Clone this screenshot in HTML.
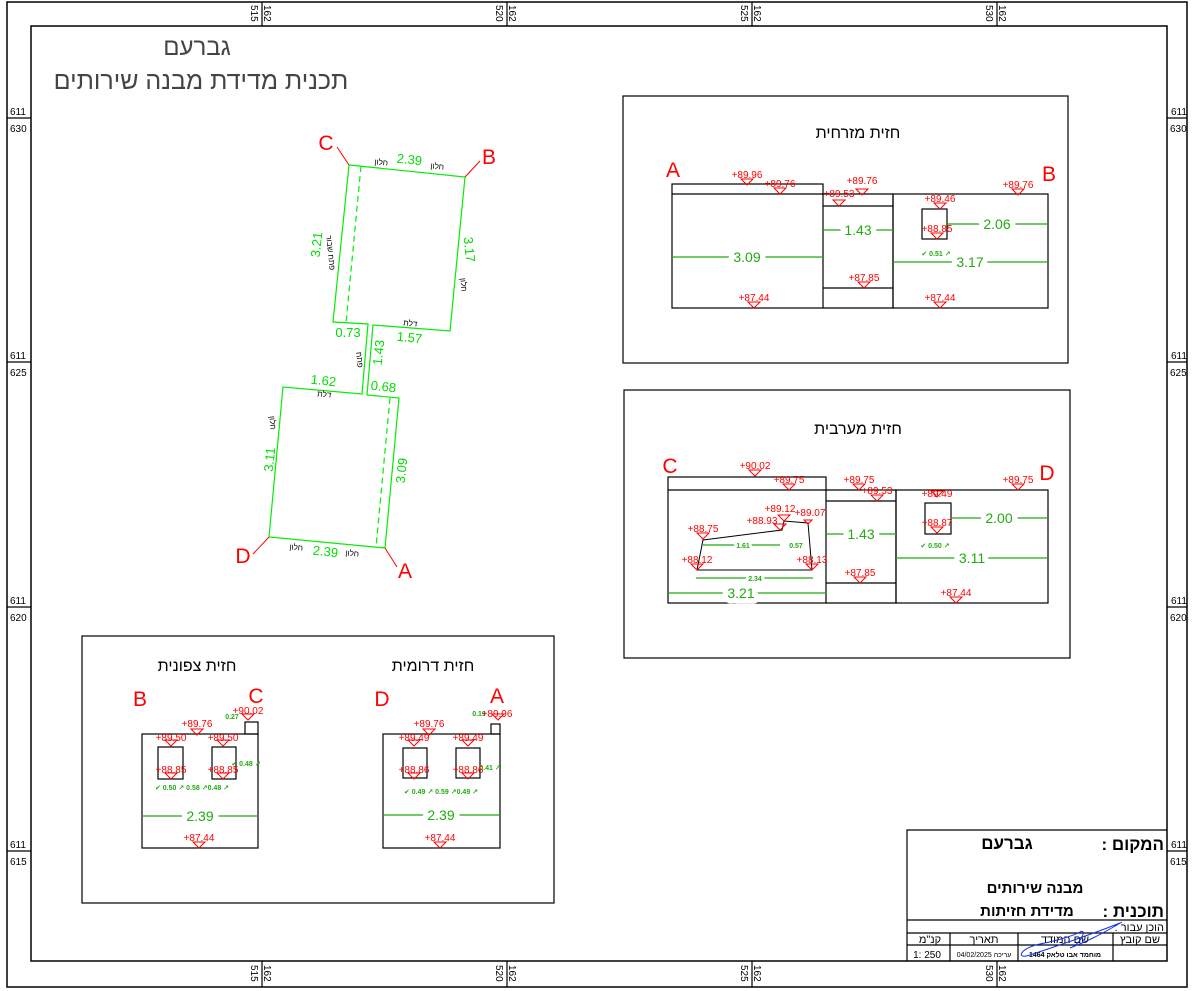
<!DOCTYPE html>
<html><head><meta charset="utf-8"><style>
html,body{margin:0;padding:0;background:#fff}
svg{display:block}
text{font-family:"Liberation Sans","DejaVu Sans",sans-serif}
.m path{fill:none;stroke:#f00;stroke-width:1}
.m text{fill:#f00;font-size:10px;text-anchor:middle}
.d{stroke:#22aa11;stroke-width:1.2;fill:none}
.dt{fill:#22aa11;font-size:14px;text-anchor:middle;stroke:#fff;stroke-width:11;paint-order:stroke;stroke-linejoin:round}
.ds{fill:#22aa11;font-size:7px;text-anchor:middle;font-weight:bold}
.b{stroke:#000;stroke-width:1.2;fill:none}
.g{stroke:#00ee00;stroke-width:1.2;fill:none}
.gt{fill:#00dd00;font-size:13px;text-anchor:middle}
.bt{fill:#000;font-size:8px;text-anchor:middle;font-family:"Liberation Sans","Noto Sans CJK SC",sans-serif}
.L{fill:#f00;font-size:21px;text-anchor:middle;font-weight:normal}
.h{font-family:"Liberation Sans","DejaVu Sans",sans-serif;text-anchor:middle;fill:#000}
.tk{font-size:10px;fill:#000}
</style></head><body>
<svg width="1192" height="991" viewBox="0 0 1192 991" xmlns="http://www.w3.org/2000/svg">
<!-- frame -->
<rect x="7" y="2" width="1180" height="985" fill="none" stroke="#000" stroke-width="1.5"/>
<rect x="31" y="26" width="1136" height="935" fill="none" stroke="#000" stroke-width="1.5"/>
<g stroke="#000" stroke-width="1.2">
<line x1="262" y1="2" x2="262" y2="26"/><line x1="507" y1="2" x2="507" y2="26"/><line x1="752" y1="2" x2="752" y2="26"/><line x1="997" y1="2" x2="997" y2="26"/>
<line x1="262" y1="961" x2="262" y2="987"/><line x1="507" y1="961" x2="507" y2="987"/><line x1="752" y1="961" x2="752" y2="987"/><line x1="997" y1="961" x2="997" y2="987"/>
<line x1="7" y1="118" x2="31" y2="118"/><line x1="7" y1="362" x2="31" y2="362"/><line x1="7" y1="607" x2="31" y2="607"/><line x1="7" y1="851" x2="31" y2="851"/>
<line x1="1167" y1="118" x2="1187" y2="118"/><line x1="1167" y1="362" x2="1187" y2="362"/><line x1="1167" y1="607" x2="1187" y2="607"/><line x1="1167" y1="851" x2="1187" y2="851"/>
</g>
<g class="tk">
<text transform="translate(251,5) rotate(90)">515</text><text transform="translate(264,5) rotate(90)">162</text>
<text transform="translate(496,5) rotate(90)">520</text><text transform="translate(509,5) rotate(90)">162</text>
<text transform="translate(741,5) rotate(90)">525</text><text transform="translate(754,5) rotate(90)">162</text>
<text transform="translate(986,5) rotate(90)">530</text><text transform="translate(999,5) rotate(90)">162</text>
<text transform="translate(251,965) rotate(90)">515</text><text transform="translate(264,965) rotate(90)">162</text>
<text transform="translate(496,965) rotate(90)">520</text><text transform="translate(509,965) rotate(90)">162</text>
<text transform="translate(741,965) rotate(90)">525</text><text transform="translate(754,965) rotate(90)">162</text>
<text transform="translate(986,965) rotate(90)">530</text><text transform="translate(999,965) rotate(90)">162</text>
<text x="10" y="115">611</text><text x="10" y="132">630</text>
<text x="10" y="359">611</text><text x="10" y="376">625</text>
<text x="10" y="604">611</text><text x="10" y="621">620</text>
<text x="10" y="848">611</text><text x="10" y="865">615</text>
<text x="1171" y="115">611</text><text x="1170" y="132">630</text>
<text x="1171" y="359">611</text><text x="1170" y="376">625</text>
<text x="1171" y="604">611</text><text x="1170" y="621">620</text>
<text x="1171" y="848">611</text><text x="1170" y="865">615</text>
</g>
<!-- title -->
<text x="197" y="55" class="h" font-size="24" style="fill:#444">גברעם</text>
<text x="201" y="89" class="h" font-size="25" style="fill:#444">תכנית מדידת מבנה שירותים</text>

<!-- PLAN -->
<g class="g">
<polyline points="349,165 465,177 450,331 373,325 367,395 399,398 385,548 269,537 283,387 362,394 368,324 333,322 349,165"/>
<line x1="361" y1="166" x2="346" y2="323" stroke-dasharray="6,4"/>
<line x1="390" y1="398" x2="376" y2="547" stroke-dasharray="6,4"/>
</g>
<g stroke="#f00" stroke-width="1">
<line x1="337" y1="147" x2="349" y2="165"/><line x1="480" y1="161" x2="465" y2="177"/>
<line x1="253" y1="554" x2="269" y2="537"/><line x1="385" y1="548" x2="397" y2="567"/>
</g>
<text class="L" x="326" y="150">C</text><text class="L" x="489" y="164">B</text>
<text class="L" x="243" y="563">D</text><text class="L" x="405" y="578">A</text>
<g class="gt">
<text transform="translate(409,164) rotate(6)">2.39</text>
<text transform="translate(321,245) rotate(-84)">3.21</text>
<text transform="translate(465,250) rotate(84)">3.17</text>
<text x="348" y="337">0.73</text>
<text transform="translate(409,342) rotate(6)">1.57</text>
<text transform="translate(383,353) rotate(-84)">1.43</text>
<text transform="translate(323,385) rotate(6)">1.62</text>
<text transform="translate(383,391) rotate(6)">0.68</text>
<text transform="translate(274,460) rotate(-84)">3.11</text>
<text transform="translate(406,471) rotate(-84)">3.09</text>
<text transform="translate(325,556) rotate(6)">2.39</text>
</g>
<g class="bt">
<text transform="translate(381,165) rotate(6)">חלון</text>
<text transform="translate(437,169) rotate(6)">חלון</text>
<text transform="translate(328,253) rotate(84)">פתח שבור</text>
<text transform="translate(461,285) rotate(84)">חלון</text>
<text transform="translate(410,326) rotate(6)">דלת</text>
<text transform="translate(357,360) rotate(84)">פתח</text>
<text transform="translate(324,397) rotate(6)">דלת</text>
<text transform="translate(270,423) rotate(84)">חלון</text>
<text transform="translate(296,550) rotate(6)">חלון</text>
<text transform="translate(352,556) rotate(6)">חלון</text>
</g>

<!-- EAST -->
<rect x="623" y="96" width="445" height="267" fill="none" stroke="#000" stroke-width="1.2"/>
<text x="858" y="138" class="h" font-size="16">חזית מזרחית</text>
<text class="L" x="673" y="177">A</text><text class="L" x="1049" y="181">B</text>
<g class="b">
<rect x="672" y="184" width="151" height="124"/>
<line x1="672" y1="194" x2="823" y2="194"/>
<polyline points="823,194 893,194 893,308 823,308"/>
<line x1="823" y1="206" x2="893" y2="206"/><line x1="823" y1="288" x2="893" y2="288"/>
<rect x="893" y="194" width="155" height="114"/>
<rect x="922" y="209" width="25" height="30"/>
</g>
<g class="d">
<line x1="672" y1="257" x2="823" y2="257"/><line x1="823" y1="230" x2="893" y2="230"/>
<line x1="947" y1="224" x2="1048" y2="224"/><line x1="893" y1="262" x2="1048" y2="262"/>
</g>
<text class="dt" x="747" y="262">3.09</text><text class="dt" x="858" y="235">1.43</text>
<text class="dt" x="997" y="229">2.06</text><text class="dt" x="970" y="267">3.17</text>
<text class="ds" x="936" y="256">✔ 0.51 ↗</text>
<g class="m">
<path d="M741 179h12l-6 6z"/><text x="747" y="178">+89.96</text>
<path d="M774 188h12l-6 6z"/><text x="780" y="187">+89.76</text>
<path d="M856 189h12l-6 6z"/><text x="862" y="184">+89.76</text>
<path d="M833 200h12l-6 6z"/><text x="839" y="197">+89.53</text>
<path d="M934 203h12l-6 6z"/><text x="940" y="202">+89.46</text>
<path d="M1012 189h12l-6 6z"/><text x="1018" y="188">+89.76</text>
<path d="M931 233h12l-6 6z"/><text x="937" y="232">+88.85</text>
<path d="M858 282h12l-6 6z"/><text x="864" y="281">+87.85</text>
<path d="M748 302h12l-6 6z"/><text x="754" y="301">+87.44</text>
<path d="M934 302h12l-6 6z"/><text x="940" y="301">+87.44</text>
</g>

<!-- WEST -->
<rect x="624" y="390" width="446" height="268" fill="none" stroke="#000" stroke-width="1.2"/>
<text x="858" y="434" class="h" font-size="16">חזית מערבית</text>
<text class="L" x="670" y="473">C</text><text class="L" x="1047" y="480">D</text>
<g class="b">
<rect x="668" y="477" width="158" height="126"/>
<line x1="668" y1="490" x2="826" y2="490"/>
<polyline points="826,490 896,490 896,603 826,603"/>
<line x1="826" y1="501" x2="896" y2="501"/><line x1="826" y1="583" x2="896" y2="583"/>
<rect x="896" y="490" width="152" height="113"/>
<rect x="925" y="503" width="26" height="31"/>
<polygon points="703,540 782,530 784,521 808,523 812,570 697,570" stroke-width="1"/>
</g>
<g class="d">
<line x1="703" y1="545" x2="780" y2="545"/><line x1="696" y1="578" x2="813" y2="578"/>
<line x1="668" y1="593" x2="826" y2="593"/><line x1="826" y1="534" x2="896" y2="534"/>
<line x1="951" y1="518" x2="1048" y2="518"/><line x1="896" y1="558" x2="1048" y2="558"/>
</g>
<text class="ds" x="743" y="548" style="stroke:#fff;stroke-width:5;paint-order:stroke">1.61</text>
<text class="ds" x="796" y="548">0.57</text>
<text class="ds" x="755" y="581" style="stroke:#fff;stroke-width:5;paint-order:stroke">2.34</text>
<text class="dt" x="741" y="598">3.21</text><text class="dt" x="861" y="539">1.43</text>
<text class="dt" x="999" y="523">2.00</text><text class="dt" x="972" y="563">3.11</text>
<text class="ds" x="935" y="548">✔ 0.50 ↗</text>
<g class="m">
<path d="M749 470h12l-6 6z"/><text x="755" y="469">+90.02</text>
<path d="M783 484h12l-6 6z"/><text x="789" y="483">+89.75</text>
<path d="M853 484h12l-6 6z"/><text x="859" y="483">+89.75</text>
<path d="M871 495h12l-6 6z"/><text x="877" y="494">+89.53</text>
<path d="M931 491h12l-6 6z"/><text x="937" y="497">+89.49</text>
<path d="M1012 484h12l-6 6z"/><text x="1018" y="483">+89.75</text>
<path d="M778 515h12l-6 6z"/><text x="780" y="512">+89.12</text>
<path d="M774 524h12l-6 6z"/><text x="762" y="524">+88.93</text>
<path d="M804 520h8l-4 4z"/><text x="810" y="516">+89.07</text>
<path d="M697 533h12l-6 6z"/><text x="703" y="532">+88.75</text>
<path d="M691 564h12l-6 6z"/><text x="697" y="563">+88.12</text>
<path d="M806 564h12l-6 6z"/><text x="812" y="563">+88.13</text>
<path d="M931 527h12l-6 6z"/><text x="937" y="526">+88.87</text>
<path d="M854 577h12l-6 6z"/><text x="860" y="576">+87.85</text>
<path d="M950 597h12l-6 6z"/><text x="956" y="596">+87.44</text>
</g>

<!-- NORTH / SOUTH -->
<rect x="82" y="636" width="472" height="267" fill="none" stroke="#000" stroke-width="1.2"/>
<text x="197" y="671" class="h" font-size="16">חזית צפונית</text>
<text x="433" y="671" class="h" font-size="16">חזית דרומית</text>
<text class="L" x="140" y="706">B</text><text class="L" x="256" y="703">C</text>
<text class="L" x="382" y="706">D</text><text class="L" x="497" y="703">A</text>
<g class="b">
<rect x="142" y="734" width="116" height="114"/>
<rect x="245" y="722" width="13" height="12"/>
<rect x="158" y="747" width="25" height="32"/><rect x="212" y="747" width="24" height="32"/>
<rect x="383" y="734" width="117" height="114"/>
<rect x="491" y="724" width="9" height="10"/>
<rect x="403" y="748" width="24" height="30"/><rect x="456" y="748" width="24" height="30"/>
</g>
<g class="d">
<line x1="142" y1="816" x2="258" y2="816"/><line x1="383" y1="815" x2="500" y2="815"/>
</g>
<text class="dt" x="200" y="821">2.39</text><text class="dt" x="441" y="820">2.39</text>
<text class="ds" x="192" y="790">✔ 0.50 ↗ 0.58 ↗0.48 ↗</text>
<text class="ds" x="246" y="766">✔ 0.48 ↗</text>
<text class="ds" x="232" y="719">0.27</text>
<text class="ds" x="441" y="794">✔ 0.49 ↗ 0.59 ↗0.49 ↗</text>
<text class="ds" x="490" y="770">0.41 ↗</text>
<text class="ds" x="479" y="716">0.19</text>
<g class="m">
<path d="M242 714h12l-6 6z"/><text x="248" y="714">+90.02</text>
<path d="M191 729h12l-6 6z"/><text x="197" y="727">+89.76</text>
<path d="M165 740h12l-6 6z"/><text x="171" y="741">+89.50</text>
<path d="M217 740h12l-6 6z"/><text x="223" y="741">+89.50</text>
<path d="M165 773h12l-6 6z"/><text x="171" y="773">+88.85</text>
<path d="M217 773h12l-6 6z"/><text x="223" y="773">+88.85</text>
<path d="M193 842h12l-6 6z"/><text x="199" y="841">+87.44</text>
<path d="M492 714h12l-6 6z"/><text x="497" y="717">+89.96</text>
<path d="M423 729h12l-6 6z"/><text x="429" y="727">+89.76</text>
<path d="M408 740h12l-6 6z"/><text x="414" y="741">+89.49</text>
<path d="M462 740h12l-6 6z"/><text x="468" y="741">+89.49</text>
<path d="M408 773h12l-6 6z"/><text x="414" y="773">+88.86</text>
<path d="M462 773h12l-6 6z"/><text x="468" y="773">+88.86</text>
<path d="M434 842h12l-6 6z"/><text x="440" y="841">+87.44</text>
</g>

<!-- TITLE BLOCK -->
<g stroke="#000" stroke-width="1.2" fill="none">
<polyline points="907,961 907,830 1167,830"/>
<line x1="907" y1="920" x2="1167" y2="920"/>
<line x1="907" y1="933" x2="1167" y2="933"/>
<line x1="907" y1="945" x2="1167" y2="945"/>
<line x1="950" y1="933" x2="950" y2="961"/>
<line x1="1018" y1="933" x2="1018" y2="961"/>
<line x1="1113" y1="933" x2="1113" y2="961"/>
</g>
<g class="h" style="font-weight:bold">
<text x="1164" y="850" font-size="17" style="text-anchor:end">: המקום</text>
<text x="1007" y="849" font-size="17">גברעם</text>
<text x="1035" y="893" font-size="15">מבנה שירותים</text>
<text x="1164" y="917" font-size="17" style="text-anchor:end">: תוכנית</text>
<text x="1027" y="916" font-size="15">מדידת חזיתות</text>
</g>
<g class="h" font-size="11">
<text x="1164" y="931" style="text-anchor:end">: הוכן עבור</text>
<text x="1140" y="943">שם קובץ</text>
<text x="1065" y="943">שם המודד</text>
<text x="984" y="943">תאריך</text>
<text x="930" y="943">קנ"מ</text>
<text x="927" y="958" font-size="10">1:  250</text>
<text x="984" y="957" font-size="7">04/02/2025 עריכה</text>
<text x="1065" y="957" font-size="7" font-weight="bold">מוחמד אבו טלאק 1464</text>
</g>
<path d="M1120,923 C1090,935 1060,945 1030,955 C1015,960 1020,948 1040,944 C1060,940 1075,935 1080,932 C1088,928 1080,945 1070,948 C1090,940 1100,935 1122,922" fill="none" stroke="#1133ee" stroke-width="1"/>
</svg>
</body></html>
